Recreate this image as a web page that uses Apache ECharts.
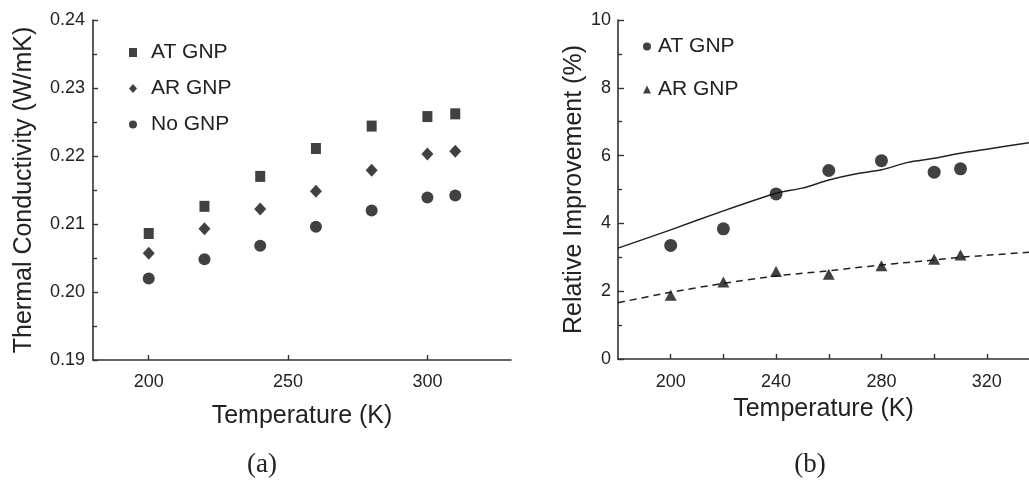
<!DOCTYPE html>
<html>
<head>
<meta charset="utf-8">
<script src="https://cdn.jsdelivr.net/npm/echarts@6/dist/echarts.min.js"></script>
<style>
html,body{margin:0;padding:0;background:#fff;}
#chart{width:1029px;height:480px;}
</style>
</head>
<body>
<div id="chart"></div>
<script>
// ---- Data ----
const temps = [200, 220, 240, 260, 280, 300, 310];
// (a) Thermal conductivity (W/mK)
const kAT = [0.2086, 0.2126, 0.2170, 0.2211, 0.2244, 0.2258, 0.2262];
const kAR = [0.2057, 0.2093, 0.2122, 0.2148, 0.2179, 0.2203, 0.2207];
const kNo = [0.2020, 0.2048, 0.2068, 0.2096, 0.2120, 0.2139, 0.2142];
// (b) Relative improvement (%)
const impAT = [3.35, 3.84, 4.87, 5.56, 5.85, 5.51, 5.61];
const impAR = [1.88, 2.27, 2.58, 2.50, 2.75, 2.94, 3.07];
// fitted curves in (b)
const fitTemps = [180, 200, 220, 240, 250, 260, 270, 280, 290, 300, 310, 320, 336];
const fitAT = [3.27, 3.81, 4.37, 4.89, 5.04, 5.28, 5.46, 5.58, 5.80, 5.92, 6.07, 6.19, 6.38];
const fitAR = [1.66, 1.97, 2.23, 2.45, 2.53, 2.60, 2.69, 2.77, 2.85, 2.92, 3.00, 3.06, 3.15];
// tick labels
const xLabelsA = [200, 250, 300];
const xLabelsB = [200, 240, 280, 320];
const xTicksB = [200, 220, 240, 260, 280, 300, 320];

const pairs = (xs, ys) => xs.map((x, i) => [x, ys[i]]);

const FONT = 'Liberation Sans, Arial, sans-serif';
const TXT = '#222';
const AX = '#333';

const axisCommon = {
  axisLine: { show: true, onZero: false, lineStyle: { color: AX, width: 1.6 } },
  splitLine: { show: false },
  nameTextStyle: { fontFamily: FONT, fontSize: 25, color: TXT },
};

const chart = echarts.init(document.getElementById('chart'), null, { renderer: 'canvas' });
chart.setOption({
  animation: false,
  backgroundColor: '#fff',
  textStyle: { fontFamily: FONT },
  grid: [
    { left: 93, top: 20, right: 518, bottom: 120 },
    { left: 618, top: 20, right: 0, bottom: 121 }
  ],
  xAxis: [
    Object.assign({}, axisCommon, {
      gridIndex: 0, type: 'value', min: 180, max: 330,
      name: 'Temperature (K)', nameLocation: 'middle', nameGap: 44,
      axisTick: { show: true, inside: true, length: 5, customValues: xLabelsA, lineStyle: { color: AX, width: 1.4 } },
      axisLabel: { customValues: xLabelsA, fontFamily: FONT, fontSize: 18, color: TXT, margin: 13 }
    }),
    Object.assign({}, axisCommon, {
      gridIndex: 1, type: 'value', min: 180, max: 336,
      name: 'Temperature (K)', nameLocation: 'middle', nameGap: 38,
      axisTick: { show: true, inside: true, length: 5, customValues: xTicksB, lineStyle: { color: AX, width: 1.4 } },
      axisLabel: { customValues: xLabelsB, fontFamily: FONT, fontSize: 18, color: TXT, margin: 14 }
    })
  ],
  yAxis: [
    Object.assign({}, axisCommon, {
      gridIndex: 0, type: 'value', min: 0.19, max: 0.24, interval: 0.01,
      name: 'Thermal Conductivity (W/mK)', nameLocation: 'middle', nameGap: 56,
      axisTick: { show: true, inside: true, length: 5, lineStyle: { color: AX, width: 1.4 } },
      minorTick: { show: true, splitNumber: 2, length: 4, lineStyle: { color: AX, width: 1.4 } },
      axisLabel: { formatter: v => v.toFixed(2), fontFamily: FONT, fontSize: 18, color: TXT, margin: 8 }
    }),
    Object.assign({}, axisCommon, {
      gridIndex: 1, type: 'value', min: 0, max: 10, interval: 2,
      name: 'Relative Improvement (%)', nameLocation: 'middle', nameGap: 24,
      axisTick: { show: true, inside: true, length: 6, lineStyle: { color: AX, width: 1.4 } },
      minorTick: { show: true, splitNumber: 2, length: 4, lineStyle: { color: AX, width: 1.4 } },
      axisLabel: { fontFamily: FONT, fontSize: 18, color: TXT, margin: 7 }
    })
  ],
  legend: [
    {
      orient: 'vertical', left: 124, top: 37, itemWidth: 8, itemHeight: 9, itemGap: 15,
      textStyle: { fontFamily: FONT, fontSize: 21, color: TXT, padding: [0, 0, 0, 9] },
      data: [
        { name: 'AT GNP', icon: 'rect' },
        { name: 'AR GNP', icon: 'diamond' },
        { name: 'No GNP', icon: 'circle' }
      ],
      selectedMode: false
    },
    {
      orient: 'vertical', left: 638, top: 31, itemWidth: 8, itemHeight: 8, itemGap: 22,
      textStyle: { fontFamily: FONT, fontSize: 21, color: TXT, padding: [0, 0, 0, 2] },
      data: [
        { name: 'AT GNP', icon: 'circle' },
        { name: 'AR GNP', icon: 'triangle' }
      ],
      selectedMode: false
    }
  ],
  series: [
    { name: 'AT GNP', type: 'scatter', xAxisIndex: 0, yAxisIndex: 0, symbol: 'rect', symbolSize: [10, 11],
      itemStyle: { color: '#111' }, data: pairs(temps, kAT) },
    { name: 'AR GNP', type: 'scatter', xAxisIndex: 0, yAxisIndex: 0, symbol: 'diamond', symbolSize: [12, 13],
      itemStyle: { color: '#111' }, data: pairs(temps, kAR) },
    { name: 'No GNP', type: 'scatter', xAxisIndex: 0, yAxisIndex: 0, symbol: 'circle', symbolSize: 12,
      itemStyle: { color: '#111' }, data: pairs(temps, kNo) },
    { name: 'AT GNP fit', type: 'line', xAxisIndex: 1, yAxisIndex: 1, showSymbol: false, smooth: 0.2,
      lineStyle: { color: '#222', width: 1.5 }, data: pairs(fitTemps, fitAT), z: 1 },
    { name: 'AR GNP fit', type: 'line', xAxisIndex: 1, yAxisIndex: 1, showSymbol: false, smooth: 0.2,
      lineStyle: { color: '#222', width: 1.5, type: [7, 5] }, data: pairs(fitTemps, fitAR), z: 1 },
    { name: 'AT GNP', type: 'scatter', xAxisIndex: 1, yAxisIndex: 1, symbol: 'circle', symbolSize: 13,
      itemStyle: { color: '#111' }, data: pairs(temps, impAT), z: 3 },
    { name: 'AR GNP', type: 'scatter', xAxisIndex: 1, yAxisIndex: 1, symbol: 'triangle', symbolSize: [12, 11],
      itemStyle: { color: '#111' }, data: pairs(temps, impAR), z: 3 }
  ],
  graphic: [
    { type: 'text', x: 262, y: 465, style: { text: '(a)', font: '27px "Liberation Serif", "Times New Roman", serif',
      fill: TXT, align: 'center', verticalAlign: 'middle', textAlign: 'center', textVerticalAlign: 'middle' } },
    { type: 'text', x: 810, y: 465, style: { text: '(b)', font: '27px "Liberation Serif", "Times New Roman", serif',
      fill: TXT, align: 'center', verticalAlign: 'middle', textAlign: 'center', textVerticalAlign: 'middle' } }
  ]
});
</script>
</body>
</html>
